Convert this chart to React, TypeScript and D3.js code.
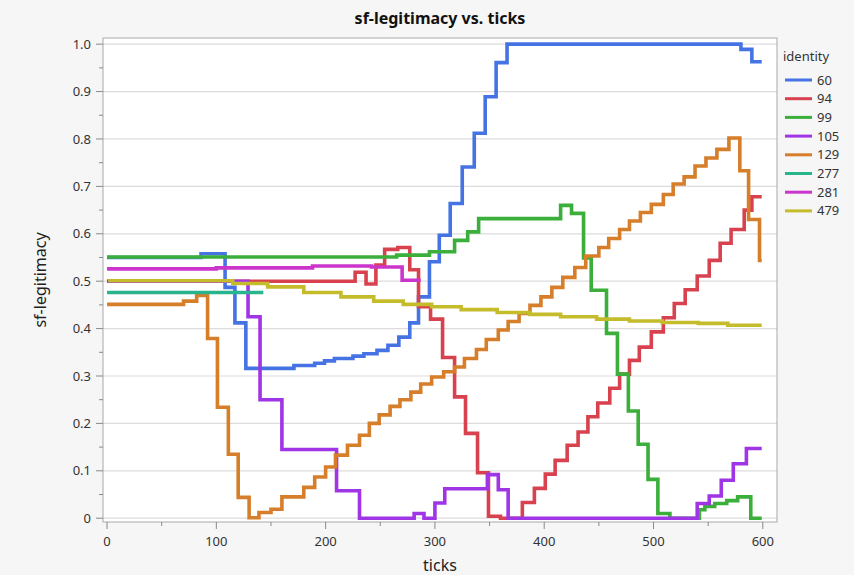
import React from 'react';
import * as d3 from 'd3';

type Pt = [number, number];

const identities = ['60', '94', '99', '105', '129', '277', '281', '479'];
const seriesColors = ['#4573E3', '#D8424F', '#3BAE3B', '#A035E6', '#D67E29', '#28B48D', '#CC35CC', '#C5BC2B'];

const s60: Pt[] = [[0,0.55],[86,0.558],[108,0.487],[117,0.412],[127,0.316],[171,0.322],[190,0.327],[199,0.332],[208,0.337],[225,0.342],[235,0.347],[247,0.354],[257,0.365],[267,0.382],[277,0.412],[285,0.467],[295,0.541],[304,0.597],[314,0.664],[325,0.741],[336,0.812],[346,0.889],[356,0.961],[366,1.0],[580,0.989],[590,0.963],[599,0.963]];
const s94: Pt[] = [[0,0.5],[227,0.519],[237,0.494],[246,0.534],[254,0.567],[266,0.571],[277,0.524],[285,0.446],[296,0.420],[307,0.339],[318,0.256],[328,0.179],[339,0.096],[349,0.004],[360,0],[380,0.033],[391,0.063],[401,0.093],[410,0.122],[421,0.154],[431,0.182],[440,0.214],[449,0.243],[460,0.274],[469,0.304],[478,0.333],[487,0.361],[498,0.393],[509,0.423],[519,0.453],[529,0.482],[540,0.511],[551,0.544],[561,0.580],[571,0.609],[583,0.650],[590,0.678],[599,0.678]];
const s99: Pt[] = [[0,0.551],[265,0.555],[295,0.562],[318,0.586],[330,0.604],[340,0.632],[415,0.660],[425,0.643],[436,0.549],[443,0.481],[457,0.390],[467,0.304],[477,0.226],[486,0.156],[495,0.082],[504,0.010],[515,0],[542,0.018],[547,0.025],[556,0.031],[567,0.037],[577,0.045],[589,0],[599,0]];
const s105: Pt[] = [[0,0.5],[129,0.425],[140,0.25],[160,0.145],[210,0.058],[231,0],[281,0.01],[290,0],[300,0.032],[309,0.062],[348,0.092],[358,0.06],[367,0],[540,0.031],[551,0.047],[562,0.08],[573,0.115],[585,0.147],[599,0.147]];
const s129: Pt[] = [[0,0.451],[70,0.458],[82,0.470],[92,0.379],[101,0.234],[111,0.135],[120,0.044],[130,0.001],[139,0.012],[150,0.019],[160,0.045],[180,0.065],[190,0.087],[200,0.108],[209,0.133],[220,0.154],[231,0.175],[240,0.200],[249,0.218],[259,0.236],[268,0.250],[278,0.266],[287,0.283],[297,0.298],[308,0.309],[318,0.319],[327,0.337],[338,0.356],[347,0.377],[358,0.397],[367,0.415],[377,0.432],[387,0.449],[397,0.467],[407,0.487],[417,0.508],[428,0.529],[438,0.553],[450,0.571],[459,0.590],[469,0.609],[478,0.627],[488,0.645],[498,0.662],[509,0.683],[518,0.705],[528,0.720],[538,0.743],[548,0.760],[558,0.778],[569,0.802],[579,0.733],[587,0.630],[597,0.544],[599,0.544]];
const s277: Pt[] = [[0,0.476],[143,0.476]];
const s281: Pt[] = [[0,0.526],[100,0.528],[188,0.532],[242,0.530],[270,0.502],[287,0.502]];
const s479: Pt[] = [[1,0.501],[115,0.495],[147,0.488],[180,0.476],[214,0.467],[244,0.458],[271,0.451],[297,0.446],[324,0.440],[357,0.434],[387,0.430],[415,0.425],[448,0.420],[478,0.416],[508,0.413],[541,0.411],[568,0.407],[599,0.407]];

const allSeries: Pt[][] = [s60, s94, s99, s105, s129, s277, s281, s479];

const xTicks = [0, 100, 200, 300, 400, 500, 600];
const xMinorTicks = [50, 150, 250, 350, 450, 550];
const yTicks = [0, 0.1, 0.2, 0.3, 0.4, 0.5, 0.6, 0.7, 0.8, 0.9, 1.0];
const yMinorTicks = [0.05, 0.15, 0.25, 0.35, 0.45, 0.55, 0.65, 0.75, 0.85, 0.95];

const W = 854;
const H = 575;
const left = 103, right = 777, top = 38, bottom = 522;
const FONT = '"Noto Sans", "Open Sans", sans-serif';

export default function App() {
  const x = d3.scaleLinear().domain([-3.7, 613]).range([left, right]);
  const y = d3.scaleLinear().domain([-0.008, 1.013]).range([bottom, top]);
  const line = d3.line<Pt>().x(d => x(d[0])).y(d => y(d[1])).curve(d3.curveStepAfter);

  return (
    <svg width={W} height={H} style={{ position: 'absolute', left: 0, top: 0 }} fontFamily={FONT}>
      <rect x={0} y={0} width={W} height={H} fill="#f6f6f6" />
      <rect x={left} y={top} width={right - left} height={bottom - top} fill="#ffffff" />
      {yTicks.map(t => (
        <line key={'g' + t} x1={left} x2={right} y1={y(t)} y2={y(t)} stroke="#dcdcdc" strokeWidth={1.2} />
      ))}
      <text x={440} y={24} textAnchor="middle" fontSize={16} fontWeight="bold" fill="#111">sf-legitimacy vs. ticks</text>
      {allSeries.map((s, i) => (
        <path key={identities[i]} d={line(s) || ''} fill="none" stroke={seriesColors[i]} strokeWidth={3.6} strokeLinejoin="miter" strokeLinecap="butt" />
      ))}
      <rect x={left} y={top} width={right - left} height={bottom - top} fill="none" stroke="#a8a8a8" strokeWidth={1} />
      {yTicks.map(t => (
        <g key={'y' + t}>
          <line x1={left - 7} x2={left} y1={y(t)} y2={y(t)} stroke="#888" />
          <text x={left - 12} y={y(t)} dy="0.35em" textAnchor="end" fontSize={13} fill="#333">{t === 0 ? '0' : t.toFixed(1)}</text>
        </g>
      ))}
      {yMinorTicks.map(t => (
        <line key={'ym' + t} x1={left - 4} x2={left} y1={y(t)} y2={y(t)} stroke="#888" />
      ))}
      {xTicks.map(t => (
        <g key={'x' + t}>
          <line x1={x(t)} x2={x(t)} y1={bottom} y2={bottom + 7} stroke="#888" />
          <text x={x(t)} y={bottom + 24} textAnchor="middle" fontSize={13} fill="#333">{t}</text>
        </g>
      ))}
      {xMinorTicks.map(t => (
        <line key={'xm' + t} x1={x(t)} x2={x(t)} y1={bottom} y2={bottom + 4} stroke="#888" />
      ))}
      <text x={440} y={571} textAnchor="middle" fontSize={16} fill="#222">ticks</text>
      <text transform={`translate(46,${(top + bottom) / 2}) rotate(-90)`} textAnchor="middle" fontSize={16} fill="#222">sf-legitimacy</text>
      <text x={783} y={61} fontSize={13} fill="#333">identity</text>
      {identities.map((id, i) => (
        <g key={'l' + id}>
          <line x1={785} x2={812} y1={80 + i * 18.7} y2={80 + i * 18.7} stroke={seriesColors[i]} strokeWidth={3} />
          <text x={817} y={80 + i * 18.7} dy="0.35em" fontSize={13} fill="#333">{id}</text>
        </g>
      ))}
    </svg>
  );
}
